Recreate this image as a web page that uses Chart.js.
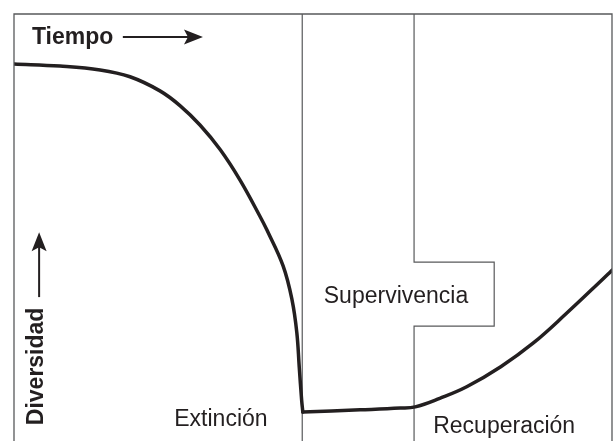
<!DOCTYPE html>
<html>
<head>
<meta charset="utf-8">
<script src="https://cdn.jsdelivr.net/npm/chart.js@4"></script>
<style>
body { margin: 0; background: #fff; overflow: hidden; }
#wrap { width: 614px; height: 441px; }
</style>
</head>
<body>
<div id="wrap"><canvas id="diversity-chart" width="614" height="441"></canvas></div>
<script>
// curva de diversidad (tiempo 0-100, diversidad 0-100), leida de la figura
// tramo de caida
const tiempoCaida = [0, 7.7, 14.4, 19.4, 24.4, 27.8, 31.1, 34.5, 37.8, 41.1, 42.3, 45.0, 46.5, 47.3, 47.7, 48.1, 48.3];
const diversidadCaida = [88.3, 87.8, 86.9, 85.3, 82.0, 78.5, 74.0, 68.2, 61.1, 52.7, 49.4, 41.0, 33.0, 25.3, 17.3, 9.6, 6.8];
// tramo de supervivencia y recuperacion
const tiempoRecup = [48.3, 57.9, 64.6, 67.1, 71.2, 75.7, 81.4, 86.8, 92.4, 98.0, 100];
const diversidadRecup = [6.8, 7.3, 7.7, 8.0, 10.0, 12.7, 17.4, 22.9, 29.9, 37.3, 40.0];

// limites entre fases
const limite1X = [48.2, 48.2];
const limite1Y = [0, 100];
const limite2X = [66.9, 66.9, 80.3, 80.3, 66.9, 66.9];
const limite2Y = [100, 41.9, 41.9, 26.9, 26.9, 0];

// fases y ejes
const fases = ["Extinción", "Supervivencia", "Recuperación"];
const faseX = [26.8, 51.8, 70.1];
const faseY = [3.5, 32.3, 1.9];
const ejeX = "Tiempo";
const ejeY = "Diversidad";

const toPoints = (xs, ys) => xs.map((x, i) => ({ x: x, y: ys[i] }));

const TEXT = '#231f20';

function arrow(ctx, x1, y1, x2, y2) {
    const ang = Math.atan2(y2 - y1, x2 - x1);
    const len = 19, half = 7.5, notch = 4;
    ctx.save();
    ctx.strokeStyle = TEXT;
    ctx.fillStyle = TEXT;
    ctx.lineWidth = 2;
    ctx.beginPath();
    ctx.moveTo(x1, y1);
    ctx.lineTo(x2 - Math.cos(ang) * 8, y2 - Math.sin(ang) * 8);
    ctx.stroke();
    ctx.translate(x2, y2);
    ctx.rotate(ang);
    ctx.beginPath();
    ctx.moveTo(0, 0);
    ctx.lineTo(-len, -half);
    ctx.lineTo(-len + notch, 0);
    ctx.lineTo(-len, half);
    ctx.closePath();
    ctx.fill();
    ctx.restore();
}

const labelsPlugin = {
    id: 'labels',
    afterDatasetsDraw(chart) {
        const ctx = chart.ctx;
        const a = chart.chartArea;
        const sx = chart.scales.x, sy = chart.scales.y;

        // marco
        ctx.save();
        ctx.strokeStyle = '#58595b';
        ctx.lineWidth = 1.3;
        ctx.beginPath();
        ctx.moveTo(a.left, a.bottom + 2);
        ctx.lineTo(a.left, a.top);
        ctx.lineTo(a.right, a.top);
        ctx.lineTo(a.right, a.bottom + 2);
        ctx.stroke();
        ctx.restore();

        ctx.save();
        ctx.fillStyle = TEXT;
        ctx.textBaseline = 'alphabetic';
        ctx.textAlign = 'left';
        ctx.font = '23px "Liberation Sans", Arial, sans-serif';
        fases.forEach((t, i) => {
            ctx.fillText(t, sx.getPixelForValue(faseX[i]), sy.getPixelForValue(faseY[i]));
        });

        ctx.font = 'bold 23px "Liberation Sans", Arial, sans-serif';
        ctx.fillText(ejeX, sx.getPixelForValue(3.0), sy.getPixelForValue(93.0));
        arrow(ctx, sx.getPixelForValue(18.2), sy.getPixelForValue(94.6), sx.getPixelForValue(31.6), sy.getPixelForValue(94.6));

        ctx.save();
        ctx.translate(sx.getPixelForValue(4.85), sy.getPixelForValue(3.7));
        ctx.rotate(-Math.PI / 2);
        ctx.fillText(ejeY, 0, 0);
        ctx.restore();
        arrow(ctx, sx.getPixelForValue(4.2), sy.getPixelForValue(33.7), sx.getPixelForValue(4.2), sy.getPixelForValue(48.9));
        ctx.restore();
    }
};

const curva = {
    showLine: true,
    borderColor: '#231f20',
    borderWidth: 3.5,
    borderCapStyle: 'round',
    pointRadius: 0,
    tension: 0.4,
    order: 0
};

new Chart(document.getElementById("diversity-chart"), {
    type: 'scatter',
    data: {
        datasets: [
            Object.assign({ label: 'Diversidad', data: toPoints(tiempoCaida, diversidadCaida) }, curva),
            Object.assign({ label: 'Diversidad', data: toPoints(tiempoRecup, diversidadRecup) }, curva),
            {
                data: toPoints(limite1X, limite1Y),
                showLine: true,
                borderColor: '#58595b',
                borderWidth: 1.2,
                pointRadius: 0,
                tension: 0,
                clip: 3,
                order: 1
            },
            {
                data: toPoints(limite2X, limite2Y),
                showLine: true,
                borderColor: '#58595b',
                borderWidth: 1.2,
                pointRadius: 0,
                tension: 0,
                clip: 3,
                order: 1
            }
        ]
    },
    options: {
        responsive: false,
        animation: false,
        layout: { padding: { left: 14, top: 14, right: 2, bottom: 0 } },
        scales: {
            x: { type: 'linear', min: 0, max: 100, display: false },
            y: { type: 'linear', min: 0, max: 100, display: false }
        },
        plugins: {
            legend: { display: false },
            tooltip: { enabled: false }
        }
    },
    plugins: [labelsPlugin]
});
</script>
</body>
</html>
